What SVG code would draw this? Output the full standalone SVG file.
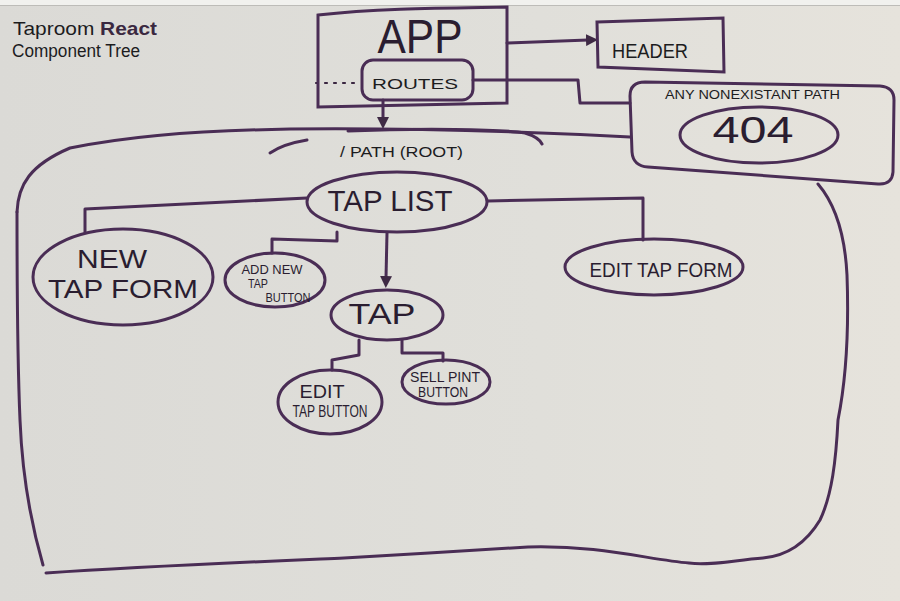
<svg xmlns="http://www.w3.org/2000/svg" width="900" height="601" viewBox="0 0 900 601">
  <defs>
    <linearGradient id="board" x1="0" y1="0" x2="1" y2="0">
      <stop offset="0" stop-color="#dbdad6"/>
      <stop offset="0.6" stop-color="#e0dfda"/>
      <stop offset="1" stop-color="#e6e3dc"/>
    </linearGradient>
    <marker id="arr" markerWidth="12" markerHeight="12" refX="2" refY="6" orient="auto" markerUnits="userSpaceOnUse">
      <path d="M0,0 L12,6 L0,12 Z" fill="#3f2a45"/>
    </marker>
    <style>
      .ink { fill: none; stroke: #4a2d55; stroke-width: 3; stroke-linecap: round; stroke-linejoin: round; }
      .thin { fill: none; stroke: #3a2640; stroke-width: 2.2; stroke-linecap: round; stroke-linejoin: round; }
      .node { fill: none; stroke: #4a2d55; stroke-width: 3; }
      .lbl { font-family: "Liberation Sans", "DejaVu Sans", sans-serif; fill: #2a1d30; text-anchor: middle; }
      .blk { font-family: "Liberation Sans", "DejaVu Sans", sans-serif; fill: #1c1c1e; }
    </style>
  </defs>

  <!-- whiteboard -->
  <rect x="0" y="0" width="900" height="601" fill="url(#board)"/>
  <rect x="0" y="0" width="900" height="5" fill="#f1f1ee"/>
  <line x1="0" y1="5.5" x2="900" y2="5.5" stroke="#bdbcb8" stroke-width="1.2"/>

  <!-- title -->
  <g id="title">
    <text class="blk" x="13" y="35" font-size="19" textLength="144" lengthAdjust="spacingAndGlyphs">Taproom <tspan font-weight="bold" fill="#3a2840">React</tspan></text>
    <text class="blk" x="12" y="57" font-size="18" textLength="128" lengthAdjust="spacingAndGlyphs">Component Tree</text>
  </g>

  <!-- container around root path -->
  <g id="root-container">
    <path class="ink" d="M17,212 C18,185 30,165 70,148 C120,138 180,131 290,129 C400,128 520,131 630,137"/>
    <path class="ink" d="M818,184 C836,205 845,235 847,275 C849,330 846,380 838,420 C836,460 832,495 820,520 C805,545 785,556 763,558 C735,560 710,566 689,563 C650,560 600,545 528,547 C480,550 400,555 344,558 C250,562 150,566 46,573"/>
    <path class="ink" d="M43,565 C30,520 22,470 20,420 C17,350 17,260 17,212"/>
    <path class="ink" d="M270,153 C280,146 295,142 307,140"/>
    <path class="ink" d="M348,131 C420,128 500,129 525,133 C535,136 540,140 542,144"/>
    <text class="blk" x="340" y="157" font-size="15" textLength="123" lengthAdjust="spacingAndGlyphs">/ PATH (ROOT)</text>
  </g>

  <!-- connectors -->
  <g id="connectors">
    <path class="ink" d="M507,43 L588,40" marker-end="url(#arr)"/>
    <path class="ink" d="M473,80 L578,80 L580,103 L630,103"/>
    <path class="thin" d="M316,83 L358,83" stroke-dasharray="2 7"/>
    <path class="ink" d="M383,100 L383,119" marker-end="url(#arr)"/>
    <path class="ink" d="M307,198 L85,209 L85,232"/>
    <path class="ink" d="M337,232 L337,241 L272,239 L272,253"/>
    <path class="ink" d="M387,233 L386,278" marker-end="url(#arr)"/>
    <path class="ink" d="M488,201 L643,198 L643,240"/>
    <path class="ink" d="M359,340 L359,355 L332,360 L332,370"/>
    <path class="ink" d="M402,340 L402,353 L443,353 L443,361"/>
  </g>

  <!-- App -->
  <g id="app">
    <path class="node" d="M318,15 C380,8 450,8 507,7 L507,103 L318,107 Z"/>
    <text class="lbl" x="420" y="53" font-size="48" textLength="85" lengthAdjust="spacingAndGlyphs" fill="#3b2342">APP</text>
  </g>

  <g id="routes">
    <rect class="node" x="362" y="60" width="111" height="40" rx="11"/>
    <text class="blk" x="372" y="89" font-size="15" textLength="86" lengthAdjust="spacingAndGlyphs">ROUTES</text>
  </g>

  <g id="header">
    <path class="node" d="M597,22 L723,18 L724,72 L598,67 Z"/>
    <text class="blk" x="612" y="58" font-size="20" textLength="76" lengthAdjust="spacingAndGlyphs">HEADER</text>
  </g>

  <g id="not-found">
    <path class="node" d="M645,82 L880,86 Q894,87 894,100 L893,172 Q892,185 878,184 L648,167 Q633,166 632,152 L630,96 Q630,82 645,82 Z"/>
    <text class="blk" x="665" y="99" font-size="12" textLength="175" lengthAdjust="spacingAndGlyphs">ANY NONEXISTANT PATH</text>
    <ellipse class="node" cx="759" cy="135" rx="79" ry="28"/>
    <text class="lbl" x="753" y="143" font-size="37" textLength="81" lengthAdjust="spacingAndGlyphs">404</text>
  </g>

  <g id="tap-list">
    <ellipse class="node" cx="397" cy="202" rx="90" ry="30"/>
    <text class="lbl" x="390" y="211" font-size="30" textLength="125" lengthAdjust="spacingAndGlyphs">TAP LIST</text>
  </g>

  <g id="new-tap-form">
    <ellipse class="node" cx="123" cy="277" rx="90" ry="48"/>
    <text class="lbl" x="112" y="268" font-size="26" textLength="70" lengthAdjust="spacingAndGlyphs">NEW</text>
    <text class="lbl" x="123" y="298" font-size="26" textLength="150" lengthAdjust="spacingAndGlyphs">TAP FORM</text>
  </g>

  <g id="add-new-tap-button">
    <ellipse class="node" cx="275" cy="280" rx="50" ry="27"/>
    <text class="lbl" x="272" y="274" font-size="12" textLength="61" lengthAdjust="spacingAndGlyphs">ADD NEW</text>
    <text class="lbl" x="258" y="288" font-size="12" textLength="20" lengthAdjust="spacingAndGlyphs">TAP</text>
    <text class="lbl" x="288" y="302" font-size="12" textLength="45" lengthAdjust="spacingAndGlyphs">BUTTON</text>
  </g>

  <g id="tap">
    <ellipse class="node" cx="387" cy="315" rx="56" ry="25"/>
    <text class="lbl" x="382" y="324" font-size="29" textLength="67" lengthAdjust="spacingAndGlyphs">TAP</text>
  </g>

  <g id="edit-tap-button">
    <ellipse class="node" cx="330" cy="402" rx="52" ry="32"/>
    <text class="lbl" x="322" y="398" font-size="18" textLength="45" lengthAdjust="spacingAndGlyphs">EDIT</text>
    <text class="lbl" x="330" y="417" font-size="17" textLength="75" lengthAdjust="spacingAndGlyphs">TAP BUTTON</text>
  </g>

  <g id="sell-pint-button">
    <ellipse class="node" cx="446" cy="382" rx="44" ry="22"/>
    <text class="lbl" x="445" y="382" font-size="14" textLength="70" lengthAdjust="spacingAndGlyphs">SELL PINT</text>
    <text class="lbl" x="443" y="397" font-size="14" textLength="50" lengthAdjust="spacingAndGlyphs">BUTTON</text>
  </g>

  <g id="edit-tap-form">
    <ellipse class="node" cx="654" cy="267" rx="89" ry="28"/>
    <text class="lbl" x="661" y="277" font-size="20" textLength="143" lengthAdjust="spacingAndGlyphs">EDIT TAP FORM</text>
  </g>
</svg>
